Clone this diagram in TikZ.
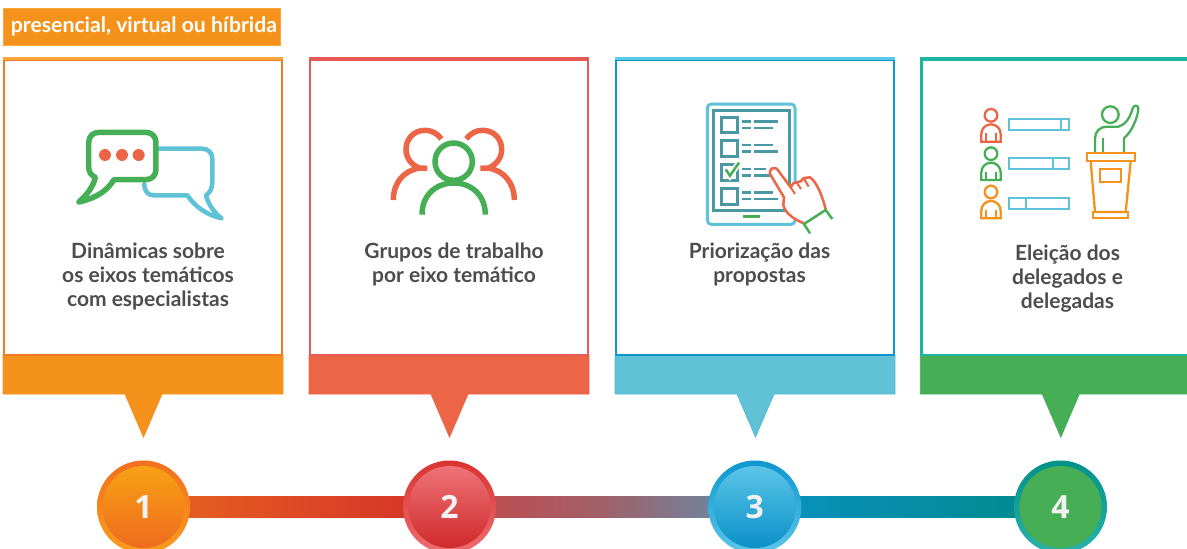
\documentclass[tikz,border=0pt]{standalone}
\usepackage{fontspec}
\setmainfont{Lato}
\newfontfamily\numfont{Open Sans}
\usetikzlibrary{calc}
\pgfdeclarelayer{bg}
\pgfsetlayers{bg,main}
\definecolor{cOr}{HTML}{F5921B}
\definecolor{cOrL}{HTML}{F9A53C}
\definecolor{cOrD}{HTML}{F37A20}
\definecolor{cRed}{HTML}{ED6547}
\definecolor{cRedE}{HTML}{E55A54}
\definecolor{cBlue}{HTML}{5FC2D6}
\definecolor{cBlueL}{HTML}{5AC8E8}
\definecolor{cBlueD}{HTML}{0E97CC}
\definecolor{cGreen}{HTML}{46AE54}
\definecolor{cTeal}{HTML}{1FB3A4}
\definecolor{cSlate}{HTML}{4B98A5}
\definecolor{cText}{HTML}{4D4D4D}
\definecolor{rA}{HTML}{F07020}\definecolor{rB}{HTML}{F99D1C}\definecolor{dA}{HTML}{F7A114}\definecolor{dB}{HTML}{EF6B1E}
\definecolor{rC}{HTML}{D9332F}\definecolor{rD}{HTML}{EF6D72}\definecolor{dC}{HTML}{EE7378}\definecolor{dD}{HTML}{CF2A2A}
\definecolor{rE}{HTML}{0E97CF}\definecolor{rF}{HTML}{5CC6E8}\definecolor{dE}{HTML}{5BC5E8}\definecolor{dF}{HTML}{0A90C8}
\definecolor{rG}{HTML}{01908A}\definecolor{rH}{HTML}{2BB3A8}
\definecolor{bA}{HTML}{E9641F}\definecolor{bB}{HTML}{D2302A}
\definecolor{bC}{HTML}{C8484A}\definecolor{bD}{HTML}{A06068}\definecolor{bE}{HTML}{6090B0}
\definecolor{bG}{HTML}{0A92C2}\definecolor{bF}{HTML}{01898A}
\tikzset{
  cardbox/.style={rectangle,fill=white,line width=2.4pt,minimum width=277.5pt,minimum height=295.7pt,inner sep=0pt},
  cardtext/.style={align=center,text=cText,font=\fontsize{21}{24}\selectfont\bfseries,inner sep=0pt},
  ring/.style={circle,minimum size=93pt,inner sep=0pt},
  disc/.style={circle,minimum size=82pt,inner sep=0pt,text=white!95!black,font=\numfont\fontsize{32}{32}\selectfont\bfseries},
  icoB/.style={line width=2.3pt,line join=miter},
  icoC/.style={line width=3pt,line join=miter},
  zoomed/.style={shift={#1},scale=1/3},
}
\newcommand{\mkcard}[5]{%
 \begin{scope}[shift={(#2,0)}]
  \path[fill=#5,draw=#5!85!#4,line width=.8pt] (0,355.5) -- (280,355.5) -- (280,394) -- (159,394) -- (140.5,437) -- (122,394) -- (0,394) -- cycle;
  \node[cardbox,draw=#4] (#1) at (140,207.4) {};
  \draw[line width=2.4pt,#3] (#1.north west) -- (#1.north east);
 \end{scope}}
\newcommand{\person}[2]{%
 \begin{scope}[shift={(0,#2)},#1,icoB]
  \draw (93,76) circle (19);
  \draw (64,155) -- (64,132) arc[start angle=180,end angle=360,radius=29] -- (122,155) -- cycle;
  \draw (78,130) -- (78,155) (107,130) -- (107,155);
 \end{scope}}
\begin{document}
\begin{tikzpicture}[x=1pt,y=-1pt]
\useasboundingbox (0,0) rectangle (1187,549);
\clip (0,0) rectangle (1187,549);
\node[fill=cOr,draw=cOrL,line width=.6pt,minimum width=277.5pt,minimum height=36.5pt,inner sep=0pt,text=white,font=\fontsize{21.2}{22}\selectfont\bfseries] (tag) at (142,26.7) {\hspace{4pt}\raisebox{-2.5pt}{presencial, virtual ou híbrida}};

\mkcard{card1}{3}{cOrL}{cOrD}{cOr}
\mkcard{card2}{309}{cRedE}{cRedE}{cRed}
\mkcard{card3}{615}{cBlueL}{cBlueD}{cBlue}
\mkcard{card4}{920.3}{cTeal}{cTeal}{cGreen}

\node[cardtext] (t1) at (148,276) {Dinâmicas sobre\\os eixos temáticos\\com especialistas};
\node[cardtext] (t2) at (454,264) {Grupos de trabalho\\por eixo temático};
\node[cardtext] (t3) at (759.5,264) {Priorização das\\propostas};
\node[cardtext] (t4) at (1067.5,279) {Eleição dos\\delegados e\\delegadas};

% icon 1: speech bubbles (coordinates in zoomed pixels)
\begin{scope}[zoomed={(0,0)}]
 \draw[cBlue,line width=4.5pt,line join=round,line cap=round]
   (478,446) -- (605,446) .. controls (625,446) and (637,458) .. (637,478) -- (637,545)
   .. controls (637,565) and (630,578) .. (618,586) .. controls (625,615) and (645,640) .. (665,655)
   .. controls (620,645) and (585,620) .. (562,586) -- (460,586) .. controls (445,586) and (433,575) .. (433,552);
 \draw[cGreen,line width=5.5pt,line join=round,line cap=round]
   (298,397) -- (436,397) .. controls (456,397) and (468,409) .. (468,429) -- (468,507)
   .. controls (468,527) and (456,539) .. (436,539) -- (342,539)
   .. controls (320,575) and (285,595) .. (237,606) .. controls (260,585) and (280,560) .. (286,532)
   .. controls (273,525) and (266,517) .. (266,500) -- (266,429) .. controls (266,409) and (278,397) .. (298,397) -- cycle;
 \fill[cRed] (315,465) circle (18) (366,465) circle (18) (416,465) circle (18);
\end{scope}

% icon 2: group of people
\begin{scope}[zoomed={(360,100)},line width=5.5pt,cRed,line cap=butt]
 \draw (244,117) .. controls (230,98) and (213,91) .. (195,91) .. controls (160,91) and (138,118) .. (138,148)
   .. controls (138,175) and (155,195) .. (178,204) -- (202,205);
 \draw (100,300) .. controls (100,250) and (130,212) .. (178,204);
 \draw (319,117) .. controls (333,98) and (350,91) .. (368,91) .. controls (403,91) and (425,118) .. (425,148)
   .. controls (425,175) and (408,195) .. (385,204) -- (361,205);
 \draw (463,300) .. controls (463,250) and (433,212) .. (385,204);
 \draw[cGreen] (281,185) circle (56);
 \draw[cGreen] (186,344) .. controls (186,285) and (228,249) .. (281,249) .. controls (334,249) and (376,285) .. (376,344);
\end{scope}

% icon 3: tablet with list and hand
\begin{scope}[zoomed={(680,90)}]
 \draw[cBlue,icoC,rounded corners=4pt] (82,42) rectangle (345,403);
 \draw[cSlate,icoC] (100,62) rectangle (327,360);
 \draw[cSlate,icoC] (125,82) rectangle (172,127) (125,152) rectangle (172,198) (125,222) rectangle (172,270) (125,294) rectangle (172,342);
 \draw[cSlate,line width=2.4pt]
  (187,95) -- (212,95) (222,95) -- (295,95) (187,114) -- (212,114) (222,114) -- (280,114)
  (187,165) -- (212,165) (222,165) -- (280,165) (187,185) -- (212,185) (222,185) -- (295,185)
  (187,237) -- (212,237) (222,237) -- (258,237) (187,256) -- (212,256) (222,256) -- (270,256)
  (187,308) -- (212,308) (222,308) -- (280,308) (187,327) -- (212,327) (222,327) -- (295,327);
 \draw[cGreen,line width=2.5pt] (188,380) -- (240,380);
 \draw[white,line width=6pt] (137,238) -- (150,257) -- (177,218);
 \draw[cGreen,line width=2.5pt] (137,238) -- (150,257) -- (177,218);
 \draw[cRed,fill=white,line width=2.5pt,line join=round]
   (372,400) .. controls (345,390) and (315,370) .. (310,345) -- (312,322) -- (272,255)
   .. controls (262,237) and (285,225) .. (295,242) -- (332,292) -- (340,280)
   -- (362,274) -- (372,264) -- (390,262) .. controls (410,275) and (428,320) .. (437,358);
 \draw[cRed,line width=2pt] (332,292) -- (345,312) (350,278) -- (363,297) (372,266) -- (386,290);
 \draw[cGreen,line width=2.5pt] (390,430) -- (372,402) -- (437,360) -- (457,387);
\end{scope}

% icon 4: voters and speaker
\begin{scope}[zoomed={(960,90)}]
 \person{cRed}{0}
 \person{cGreen}{115}
 \person{cOr}{230}
 \draw[cBlue,icoB] (146,87) rectangle (326,120) (302,87) -- (302,120);
 \draw[cBlue,icoB] (146,205) rectangle (326,238) (279,205) -- (279,238);
 \draw[cBlue,icoB] (146,324) rectangle (326,357) (197,324) -- (197,357);
 \draw[cGreen,icoB] (451,74) circle (25);
 \draw[cGreen,icoB,line join=round] (405,187) -- (405,145) .. controls (405,125) and (420,110) .. (440,110) -- (475,110)
   .. controls (495,105) and (510,85) .. (518,55) .. controls (522,42) and (538,45) .. (535,60)
   .. controls (530,90) and (515,125) .. (492,145) -- (492,187);
 \draw[cGreen,icoB] (428,145) -- (428,187);
 \draw[cOr,icoB] (380,190) rectangle (524,214);
 \draw[cOr,icoB] (392,214) -- (405,366) -- (497,366) -- (512,214);
 \draw[cOr,icoB] (399,366) rectangle (505,385);
 \draw[cOr,icoB] (421,237) rectangle (484,277);
\end{scope}

% timeline
\node[ring,top color=rA,bottom color=rB] (n1) at (143.5,507) {};
\node[disc,top color=dA,bottom color=dB] (d1) at (n1) {1};
\node[ring,top color=rC,bottom color=rD] (n2) at (449.5,507) {};
\node[disc,top color=dC,bottom color=dD] (d2) at (n2) {2};
\node[ring,top color=rE,bottom color=rF] (n3) at (754.8,507) {};
\node[disc,top color=dE,bottom color=dF] (d3) at (n3) {3};
\node[ring,top color=rG,bottom color=rH] (n4) at (1060.5,507) {};
\node[disc,fill=cGreen] (d4) at (n4) {4};
\begin{pgfonlayer}{bg}
 \shade[left color=bA,right color=bB] ($(n1.center)+(0,-10.5)$) rectangle ($(n2.center)+(0,10.5)$);
 \shade[left color=bC,right color=bE,middle color=bD] ($(n2.center)+(0,-10.5)$) rectangle ($(n3.center)+(0,10.5)$);
 \shade[left color=bG,right color=bF] ($(n3.center)+(0,-10.5)$) rectangle ($(n4.center)+(0,10.5)$);
\end{pgfonlayer}
\end{tikzpicture}
\end{document}
